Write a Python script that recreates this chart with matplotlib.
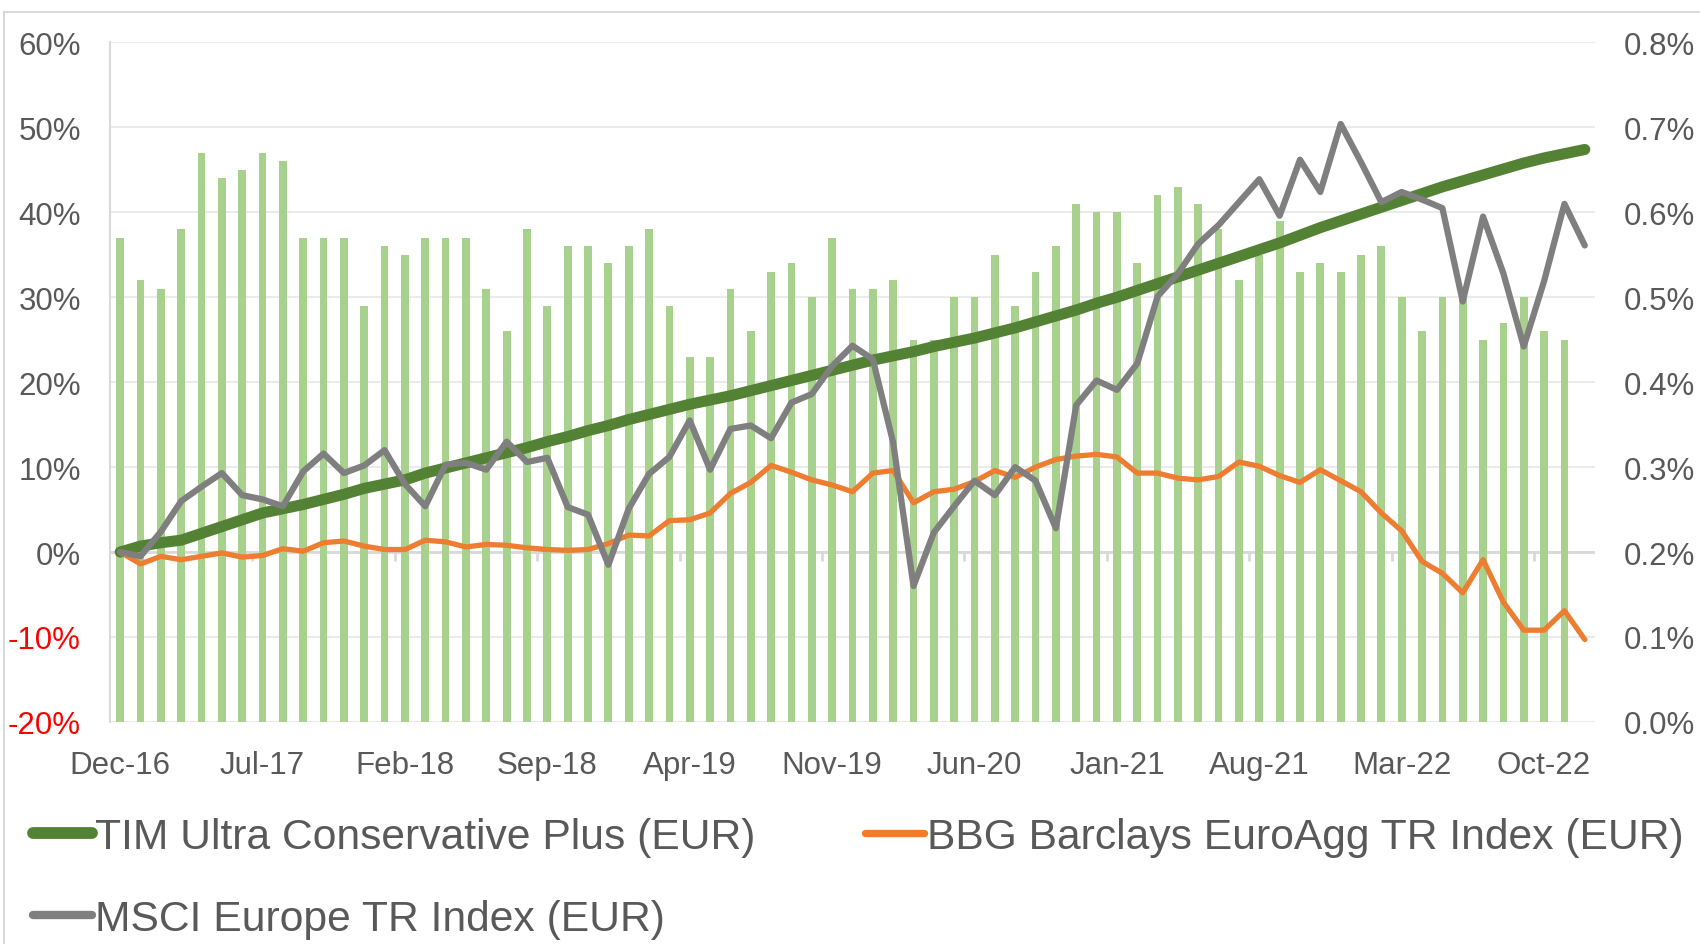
import numpy as np
import matplotlib
matplotlib.use("Agg")
import matplotlib.pyplot as plt
from matplotlib.lines import Line2D

plt.rcParams['font.family'] = ['Liberation Sans', 'DejaVu Sans']

# x axis labels (every 7th month, Dec-16 .. Dec-22 = 73 months)
tick_labels = ["Dec-16", "Jul-17", "Feb-18", "Sep-18", "Apr-19", "Nov-19",
               "Jun-20", "Jan-21", "Aug-21", "Mar-22", "Oct-22"]

# cumulative performance, % (left axis)
tim = [0, 0.7, 1.1, 1.4, 2.2, 3.0, 3.8, 4.6, 5.1, 5.6, 6.2, 6.8, 7.5, 8.0, 8.5,
       9.3, 9.9, 10.5, 11.1, 11.7, 12.3, 13.0, 13.6, 14.3, 14.9, 15.6, 16.2,
       16.8, 17.4, 17.9, 18.4, 19.0, 19.6, 20.2, 20.8, 21.4, 22.0, 22.6, 23.1,
       23.6, 24.2, 24.7, 25.2, 25.8, 26.4, 27.1, 27.8, 28.5, 29.3, 30.0, 30.8,
       31.6, 32.4, 33.2, 34.0, 34.8, 35.6, 36.4, 37.3, 38.2, 39.0, 39.8, 40.6,
       41.4, 42.2, 43.0, 43.7, 44.4, 45.1, 45.8, 46.4, 46.9, 47.4]
bbg = [0, -1.4, -0.5, -0.9, -0.5, -0.1, -0.6, -0.4, 0.4, 0.1, 1.1, 1.3, 0.7,
       0.3, 0.3, 1.4, 1.2, 0.6, 0.9, 0.8, 0.5, 0.3, 0.2, 0.3, 1.0, 2.0, 1.9,
       3.7, 3.8, 4.6, 6.9, 8.2, 10.2, 9.4, 8.5, 7.9, 7.1, 9.3, 9.6, 5.8, 7.1,
       7.4, 8.3, 9.6, 8.8, 10.0, 10.9, 11.3, 11.5, 11.2, 9.3, 9.3, 8.7, 8.5,
       8.9, 10.6, 10.1, 9.0, 8.2, 9.7, 8.4, 7.1, 4.6, 2.5, -1.1, -2.5, -4.8,
       -0.9, -5.9, -9.2, -9.2, -6.9, -10.3]
msci = [0, -0.5, 2.4, 6.0, 7.7, 9.3, 6.7, 6.2, 5.4, 9.5, 11.6, 9.3, 10.2, 12.0,
        8.0, 5.4, 10.3, 10.5, 9.7, 13.0, 10.6, 11.1, 5.3, 4.4, -1.5, 5.1, 9.2,
        11.2, 15.5, 9.7, 14.5, 14.9, 13.4, 17.6, 18.6, 21.9, 24.3, 22.7, 12.9,
        -4.0, 2.3, 5.4, 8.4, 6.7, 10.0, 8.4, 2.8, 17.3, 20.2, 19.1, 22.2, 30.1,
        32.8, 36.3, 38.5, 41.2, 43.9, 39.6, 46.2, 42.4, 50.4, 45.9, 41.2, 42.4,
        41.5, 40.5, 29.5, 39.5, 32.8, 24.2, 31.9, 41.0, 36.1]

# monthly bars, % (right axis)
bars = [0.57, 0.52, 0.51, 0.58, 0.67, 0.64, 0.65, 0.67, 0.66, 0.57, 0.57, 0.57,
        0.49, 0.56, 0.55, 0.57, 0.57, 0.57, 0.51, 0.46, 0.58, 0.49, 0.56, 0.56,
        0.54, 0.56, 0.58, 0.49, 0.43, 0.43, 0.51, 0.46, 0.53, 0.54, 0.50, 0.57,
        0.51, 0.51, 0.52, 0.45, 0.45, 0.50, 0.50, 0.55, 0.49, 0.53, 0.56, 0.61,
        0.60, 0.60, 0.54, 0.62, 0.63, 0.61, 0.58, 0.52, 0.55, 0.59, 0.53, 0.54,
        0.53, 0.55, 0.56, 0.50, 0.46, 0.50, 0.50, 0.45, 0.47, 0.50, 0.46, 0.45]

names = ["TIM Ultra Conservative Plus (EUR)", "BBG Barclays EuroAgg TR Index (EUR)",
         "MSCI Europe TR Index (EUR)"]

text_col = "#595959"
grid_col = "#EBEBEB"

fig = plt.figure(figsize=(17, 9.45), dpi=100)
ax = fig.add_axes([0.0647, 0.235, 0.8735, 0.719])
ax2 = ax.twinx()
ax.set_zorder(ax2.get_zorder() + 1)
ax.patch.set_visible(False)

x = np.arange(len(tim))

# bars + grid on secondary axis (drawn underneath)
ax2.bar(np.arange(len(bars)), bars, width=0.38, color="#A9D18E", zorder=2)
ax2.set_ylim(0, 0.8)
ax2.set_yticks(np.arange(0, 0.81, 0.1))
ax2.set_yticklabels([f"{v:.1f}%" for v in np.arange(0, 0.81, 0.1)])
ax2.yaxis.grid(True, color=grid_col, lw=1.5, zorder=0)
ax2.set_axisbelow(True)
ax2.axhline(0.2, color="#D9D9D9", lw=2, zorder=1)
ax2.vlines(np.arange(6.5, 72, 7), 0.2 - 0.011, 0.2, color="#D9D9D9", lw=2, zorder=1)

# lines on primary axis
ax.plot(x, tim, color="#548235", lw=8, solid_capstyle="round",
        solid_joinstyle="round", label=names[0])
ax.plot(x, bbg, color="#ED7D31", lw=3.8, solid_capstyle="round",
        solid_joinstyle="round", label=names[1])
ax.plot(x, msci, color="#7F7F7F", lw=4.5, solid_capstyle="round",
        solid_joinstyle="round", label=names[2])

ax.set_xlim(-0.5, 72.5)
ax.set_ylim(-20, 60)
yt = list(range(-20, 61, 10))
ax.set_yticks(yt)
ax.set_yticklabels([f"{v}%" for v in yt])
ax.set_xticks(np.arange(0, 73, 7))
ax.set_xticklabels(tick_labels)

for a in (ax, ax2):
    for s in a.spines.values():
        s.set_visible(False)
    a.tick_params(length=0, labelsize=22.5, colors=text_col)
ax.spines["left"].set_visible(True)
ax.spines["left"].set_color("#D9D9D9")
ax.spines["left"].set_linewidth(1.5)
ax.tick_params(axis="y", pad=21)
ax.tick_params(axis="x", pad=20)
ax2.tick_params(axis="y", pad=21)
for lab, v in zip(ax.get_yticklabels(), yt):
    lab.set_color("#FF0000" if v < 0 else text_col)

# legend: row 1 TIM / BBG, row 2 MSCI
h, l = ax.get_legend_handles_labels()
order = [0, 2, 1]
leg = fig.legend([h[i] for i in order], [l[i] for i in order], loc="upper left",
                 bbox_to_anchor=(0.0194, 0.134), ncol=2, frameon=False,
                 fontsize=30.7, handlelength=1.38, handletextpad=0.07,
                 columnspacing=2.57, labelspacing=0.97, borderaxespad=0,
                 borderpad=0)
for t in leg.get_texts():
    t.set_color(text_col)
for lh, w in zip(leg.legend_handles, [8.5, 6.0, 5.3]):
    lh.set_linewidth(w)

# chart area border
fig.add_artist(Line2D([0.0025, 1], [1 - 13 / 945, 1 - 13 / 945],
                      color="#D9D9D9", lw=1.5, transform=fig.transFigure))
fig.add_artist(Line2D([0.0025, 0.0025], [0, 1 - 13 / 945],
                      color="#D9D9D9", lw=1.5, transform=fig.transFigure))

fig.savefig("out.png", dpi=100)
